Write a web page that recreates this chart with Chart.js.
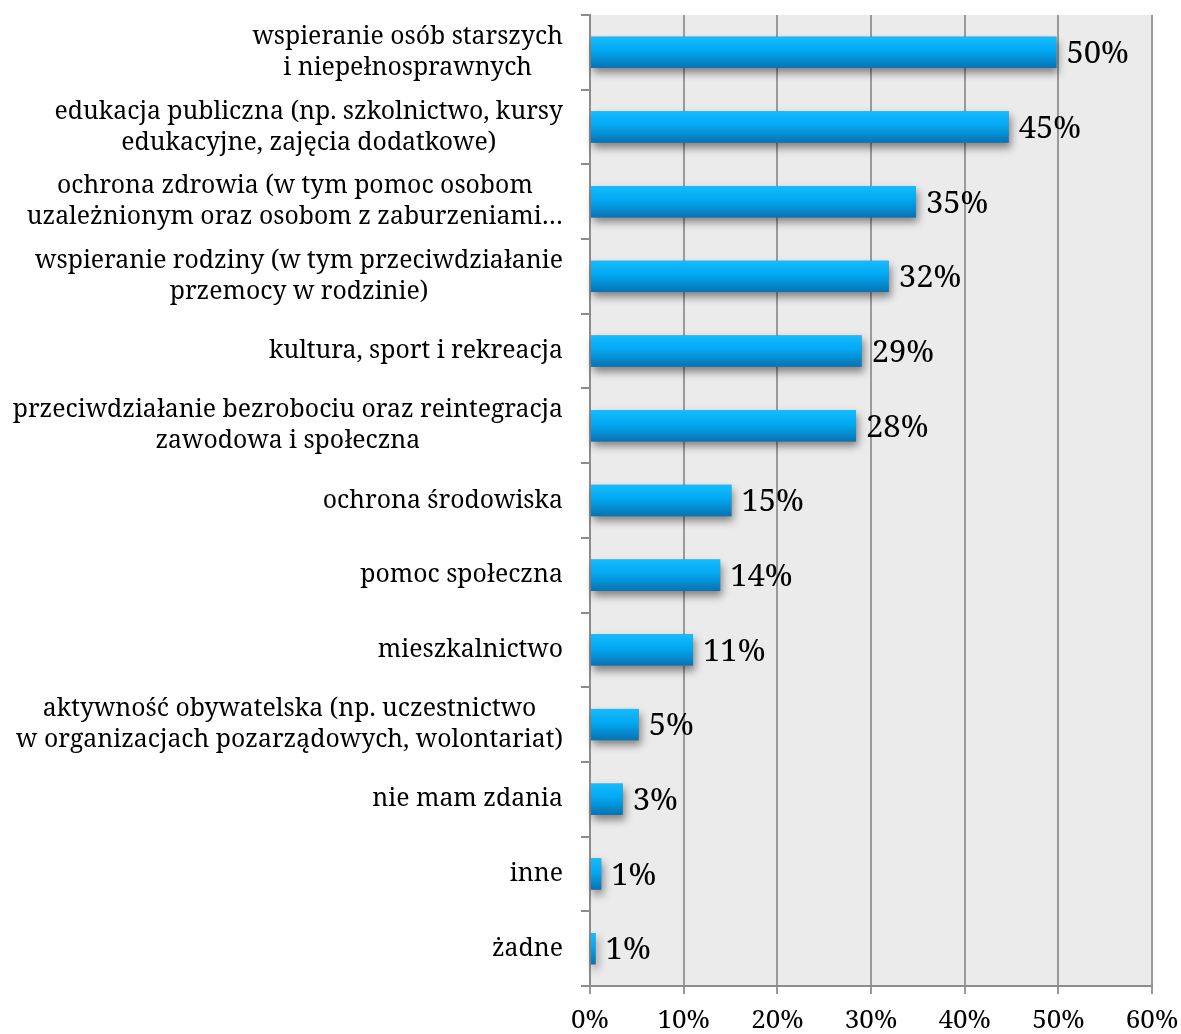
<!DOCTYPE html>
<html>
<head>
<meta charset="utf-8">
<script src="https://cdn.jsdelivr.net/npm/chart.js@4/dist/chart.umd.min.js"></script>
<style>
  body { margin: 0; background: #fff; }
</style>
</head>
<body>
<canvas id="chart" width="1181" height="1034"></canvas>
<script>
const categories = [
    ["wspieranie osób starszych", "i niepełnosprawnych"],
    ["edukacja publiczna (np. szkolnictwo, kursy", "edukacyjne, zajęcia dodatkowe)"],
    ["ochrona zdrowia (w tym pomoc osobom", "uzależnionym oraz osobom z zaburzeniami…"],
    ["wspieranie rodziny (w tym przeciwdziałanie", "przemocy w rodzinie)"],
    ["kultura, sport i rekreacja"],
    ["przeciwdziałanie bezrobociu oraz reintegracja", "zawodowa i społeczna"],
    ["ochrona środowiska"],
    ["pomoc społeczna"],
    ["mieszkalnictwo"],
    ["aktywność obywatelska (np. uczestnictwo", "w organizacjach pozarządowych, wolontariat)"],
    ["nie mam zdania"],
    ["inne"],
    ["żadne"]
];
const values = [49.8, 44.7, 34.8, 31.9, 29.0, 28.4, 15.1, 13.9, 11.0, 5.2, 3.5, 1.2, 0.6];
const valueLabels = ["50%", "45%", "35%", "32%", "29%", "28%", "15%", "14%", "11%", "5%", "3%", "1%", "1%"];
const xTicks = [0, 10, 20, 30, 40, 50, 60];

const FONT = '"Noto Serif", "DejaVu Serif", serif';
const BAR_PCT = 0.42;

// gradient per bar, top light -> bottom dark
function barFill(ctx) {
    const chart = ctx.chart;
    const ys = chart.scales.y;
    if (!chart.chartArea || !ys || !ys.height) return '#03a6ee';
    const h = ys.height / categories.length * BAR_PCT;
    const top = ys.getPixelForValue(ctx.dataIndex) - h / 2;
    const g = chart.ctx.createLinearGradient(0, top, 0, top + h);
    g.addColorStop(0, '#16bcff');
    g.addColorStop(0.45, '#02a8f1');
    g.addColorStop(1, '#0872b2');
    return g;
}

// plot background + shadows under bars
const bgPlugin = {
    id: 'bg',
    beforeDraw(chart) {
        const { ctx, chartArea: a } = chart;
        ctx.save();
        ctx.fillStyle = '#ebebeb';
        ctx.fillRect(a.left, a.top, a.right - a.left, a.bottom - a.top);
        ctx.restore();
    },
    beforeDatasetsDraw(chart) {
        const ctx = chart.ctx;
        ctx.save();
        ctx.shadowColor = 'rgba(0,0,0,0.45)';
        ctx.shadowBlur = 8;
        ctx.shadowOffsetY = 5;
        ctx.shadowOffsetX = 2;
        ctx.fillStyle = '#7a7a7a';
        chart.getDatasetMeta(0).data.forEach(b => {
            const h = b.height;
            ctx.fillRect(b.base, b.y - h / 2, b.x - b.base, h);
        });
        ctx.restore();
    }
};

// category labels (lines centered, block right aligned) and value labels
const labelPlugin = {
    id: 'labels',
    afterDraw(chart) {
        const ctx = chart.ctx;
        const y = chart.scales.y;
        ctx.save();
        ctx.fillStyle = '#000';
        ctx.font = '24.8px ' + FONT;
        ctx.textAlign = 'center';
        ctx.textBaseline = 'middle';
        const right = chart.chartArea.left - 27;
        const lh = 31;
        categories.forEach((lines, i) => {
            const cy = y.getPixelForValue(i);
            const w = Math.max(...lines.map(l => ctx.measureText(l).width));
            const cx = right - w / 2;
            lines.forEach((l, j) => {
                ctx.fillText(l, cx, cy + (j - (lines.length - 1) / 2) * lh);
            });
        });
        ctx.font = '31px ' + FONT;
        ctx.textAlign = 'left';
        chart.getDatasetMeta(0).data.forEach((b, i) => {
            ctx.fillText(valueLabels[i], b.x + 10, b.y + 2);
        });
        ctx.restore();
    }
};

new Chart(document.getElementById('chart'), {
    type: 'bar',
    data: {
        labels: categories,
        datasets: [{
            data: values,
            backgroundColor: barFill,
            borderWidth: 0,
            categoryPercentage: 1,
            barPercentage: BAR_PCT
        }]
    },
    options: {
        indexAxis: 'y',
        responsive: false,
        animation: false,
        layout: { padding: { top: 15, right: 29, left: 0, bottom: 0 } },
        plugins: { legend: { display: false }, tooltip: { enabled: false } },
        scales: {
            x: {
                min: 0,
                max: 60,
                afterBuildTicks(scale) { scale.ticks = xTicks.map(v => ({ value: v })); },
                afterFit(scale) { scale.height = 48; },
                grid: { color: '#9a9a9a', lineWidth: 2, tickLength: 8 },
                border: { color: '#8c8c8c', width: 2 },
                ticks: {
                    color: '#000',
                    padding: 2,
                    maxRotation: 0,
                    font: { family: FONT, size: 26, lineHeight: 1.9 },
                    callback: v => v + '%'
                }
            },
            y: {
                afterFit(scale) { scale.width = 590; },
                grid: { offset: true, drawOnChartArea: false, color: '#8c8c8c', lineWidth: 2, tickLength: 9 },
                border: { color: '#8c8c8c', width: 2 },
                ticks: { display: false }
            }
        }
    },
    plugins: [bgPlugin, labelPlugin]
});
</script>
</body>
</html>
